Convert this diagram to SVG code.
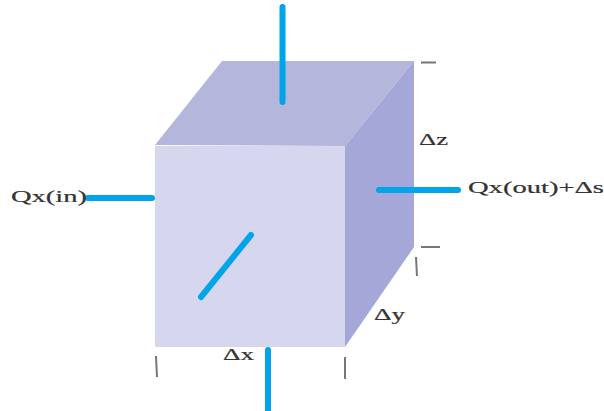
<svg xmlns="http://www.w3.org/2000/svg" width="604" height="411" viewBox="0 0 604 411">
<style>
.flow{stroke:#00a4e8;stroke-width:6;stroke-linecap:round;fill:none}
.tick{stroke:#777;stroke-width:2;fill:none}
text{font-family:"Liberation Serif",serif;font-size:16px;fill:#333;stroke:#333;stroke-width:.2}
</style>
<rect width="604" height="411" fill="#fff"/>
<g id="cube">
<polygon points="155,145 222,61 414,61 345,146" fill="#b4b6dc"/>
<polygon points="345,146 414,61 414,247 345,347" fill="#a6a7d9"/>
<rect x="155" y="146" width="190" height="201" fill="#d6d7ee"/>
</g>
<g id="ticks">
<path class="tick" d="M421 62.500H436M421 247H440M416 257L417 276M156 356L157 377M345 357V379"/>
</g>
<g id="connectors">
<path class="flow" d="M282.500 7V102M88 198H152M379 190H458M251 235L201 297M268 350V410"/>
</g>
<g id="label-qxin"><text x="11" y="202" textLength="76" lengthAdjust="spacingAndGlyphs">Qx(in)</text></g>
<g id="label-qxout"><text x="468" y="193" textLength="136" lengthAdjust="spacingAndGlyphs">Qx(out)+Δs</text></g>
<g id="label-dz"><text x="419" y="145" textLength="29" lengthAdjust="spacingAndGlyphs">Δz</text></g>
<g id="label-dy"><text x="374" y="320" textLength="31" lengthAdjust="spacingAndGlyphs">Δy</text></g>
<g id="label-dx"><text x="223" y="360" textLength="31" lengthAdjust="spacingAndGlyphs">Δx</text></g>
</svg>
